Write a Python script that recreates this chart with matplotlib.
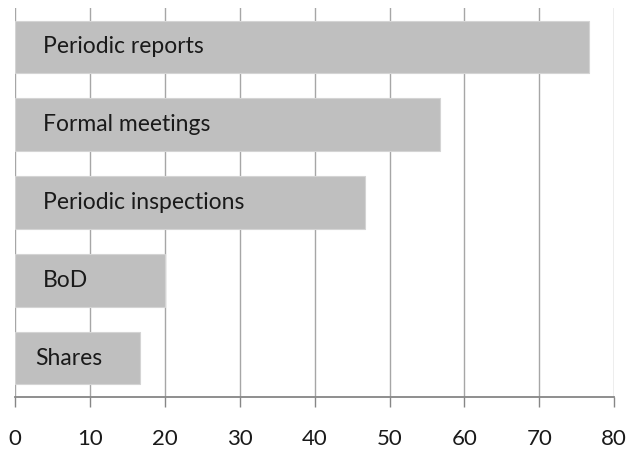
import matplotlib.pyplot as plt
import numpy as np

categories = ['Periodic reports', 'Formal meetings', 'Periodic inspections', 'BoD', 'Shares']
values = [76.7, 56.7, 46.7, 20.0, 16.7]
xticks = [0, 10, 20, 30, 40, 50, 60, 70, 80]

plt.rcParams['font.family'] = ['Lato', 'DejaVu Sans']

fig = plt.figure(figsize=(6.28, 4.5), dpi=100)
ax = fig.add_axes([0.024, 0.118, 0.954, 0.864])

y = np.arange(len(categories))
ax.barh(y, values, height=0.68, color='#bfbfbf', edgecolor='#d4d4d4', linewidth=0.8, zorder=2)

# category names drawn inside the bars
label_x = [3.7, 3.7, 3.7, 3.7, 2.7]
for yi, name, lx in zip(y, categories, label_x):
    ax.text(lx, yi, name, va='center', ha='left', fontsize=16.5, color='#1a1a1a', zorder=3)

ax.set_xlim(0, 80)
ax.set_ylim(len(categories) - 0.5, -0.5)
ax.set_xticks(xticks)
ax.set_yticks([])
ax.xaxis.grid(True, color='#a6a6a6', linewidth=1)
ax.set_axisbelow(True)
for side in ['top', 'right', 'left']:
    ax.spines[side].set_visible(False)
ax.spines['bottom'].set_color('#868686')
ax.spines['bottom'].set_linewidth(1.3)
ax.tick_params(axis='x', length=7, width=1, color='#868686', labelsize=16, pad=16, labelcolor='#1a1a1a')

fig.savefig('out.png', dpi=100)
